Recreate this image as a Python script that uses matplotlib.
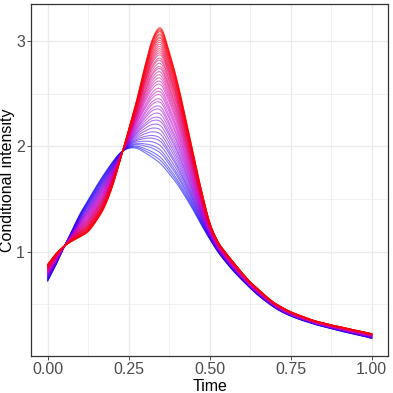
import numpy as np
import matplotlib
matplotlib.use("Agg")
import matplotlib.pyplot as plt
from matplotlib.colors import LinearSegmentedColormap

# time grid (step 0.025)
time = [0.000, 0.025, 0.050, 0.075, 0.100, 0.125, 0.150, 0.175, 0.200, 0.225,
        0.250, 0.275, 0.300, 0.325, 0.350, 0.375, 0.400, 0.425, 0.450, 0.475,
        0.500, 0.525, 0.550, 0.575, 0.600, 0.625, 0.650, 0.675, 0.700, 0.725,
        0.750, 0.775, 0.800, 0.825, 0.850, 0.875, 0.900, 0.925, 0.950, 0.975,
        1.000]

# first (blue) curve
intensity_blue = [0.72, 0.87, 1.04, 1.20, 1.36, 1.49, 1.62, 1.74, 1.85, 1.94,
                  1.98, 1.98, 1.94, 1.89, 1.83, 1.74, 1.64, 1.52, 1.39, 1.25,
                  1.12, 1.00, 0.90, 0.81, 0.73, 0.655, 0.585, 0.525, 0.47, 0.425,
                  0.39, 0.36, 0.335, 0.31, 0.29, 0.27, 0.25, 0.232, 0.215, 0.198,
                  0.178]

# last (red) curve
intensity_red = [0.88, 0.98, 1.05, 1.10, 1.14, 1.19, 1.29, 1.42, 1.62, 1.88,
                 2.16, 2.44, 2.76, 3.03, 3.12, 2.90, 2.62, 2.28, 1.92, 1.58,
                 1.28, 1.10, 0.99, 0.895, 0.80, 0.715, 0.645, 0.575, 0.515, 0.47,
                 0.43, 0.40, 0.37, 0.345, 0.325, 0.305, 0.29, 0.272, 0.256, 0.24,
                 0.222]

# height of every curve at t = 0.35 (blue -> red)
level_at_peak = [1.83, 1.86, 1.89, 1.93, 1.96, 2.00, 2.04, 2.07, 2.11, 2.15,
                 2.19, 2.23, 2.26, 2.30, 2.34, 2.37, 2.41, 2.44, 2.48, 2.51,
                 2.54, 2.58, 2.61, 2.64, 2.67, 2.70, 2.73, 2.75, 2.78, 2.81,
                 2.83, 2.86, 2.88, 2.90, 2.92, 2.94, 2.96, 2.98, 3.00, 3.02,
                 3.03, 3.05, 3.06, 3.08, 3.09, 3.10, 3.11, 3.12]


def smooth(x, y, n=12):
    # catmull-rom through the points, just for drawing
    x = np.asarray(x); y = np.asarray(y)
    xp = np.r_[2 * x[0] - x[1], x, 2 * x[-1] - x[-2]]
    yp = np.r_[2 * y[0] - y[1], y, 2 * y[-1] - y[-2]]
    s = np.linspace(0, 1, n, endpoint=False)
    xs, ys = [], []
    for i in range(1, len(xp) - 2):
        for arr, out in ((xp, xs), (yp, ys)):
            p0, p1, p2, p3 = arr[i - 1], arr[i], arr[i + 1], arr[i + 2]
            out.append(0.5 * (2 * p1 + (p2 - p0) * s
                              + (2 * p0 - 5 * p1 + 4 * p2 - p3) * s ** 2
                              + (3 * p1 - p0 - 3 * p2 + p3) * s ** 3))
    xs.append([x[-1]]); ys.append([y[-1]])
    return np.concatenate(xs), np.concatenate(ys)


t = np.array(time)
lo = np.array(intensity_blue)
hi = np.array(intensity_red)
w_all = (np.array(level_at_peak) - lo[14]) / (hi[14] - lo[14])

cmap = LinearSegmentedColormap.from_list(
    "br", [(0.0, (0.0, 0.0, 1.0)), (0.5, (0.78, 0.0, 0.82)), (1.0, (1.0, 0.0, 0.0))])

plt.rcParams['font.family'] = ['Liberation Sans', 'DejaVu Sans']
fig = plt.figure(figsize=(3.93, 3.93), dpi=100)
ax = fig.add_axes([0.080, 0.095, 0.907, 0.895])

for w in w_all:
    xs, ys = smooth(t, lo + w * (hi - lo))
    ax.plot(xs, ys, color=cmap(w), alpha=0.55, lw=0.8)

ax.set_xlim(-0.05, 1.05)
ax.set_ylim(0.014, 3.35)
ax.set_xticks([0, 0.25, 0.5, 0.75, 1.0])
ax.set_xticklabels(['0.00', '0.25', '0.50', '0.75', '1.00'])
ax.set_yticks([1, 2, 3])
ax.set_xticks([0.125, 0.375, 0.625, 0.875], minor=True)
ax.set_yticks([0.5, 1.5, 2.5], minor=True)
ax.grid(which='major', color='#ebebeb', lw=1.0)
ax.grid(which='minor', color='#ebebeb', lw=0.5)
ax.set_axisbelow(True)
ax.tick_params(which='major', direction='out', length=2.75, width=0.6,
               color='#333333', labelsize=11.5, labelcolor='#4d4d4d', pad=2)
ax.tick_params(which='minor', length=0)
for s in ax.spines.values():
    s.set_color('#333333')
    s.set_linewidth(0.9)

ax.set_xlabel('Time', fontsize=11.5, labelpad=1)
ax.set_ylabel('Conditional intensity', fontsize=11.5)
ax.yaxis.set_label_coords(-0.047, 0.5)

fig.savefig('out.png', dpi=100)
